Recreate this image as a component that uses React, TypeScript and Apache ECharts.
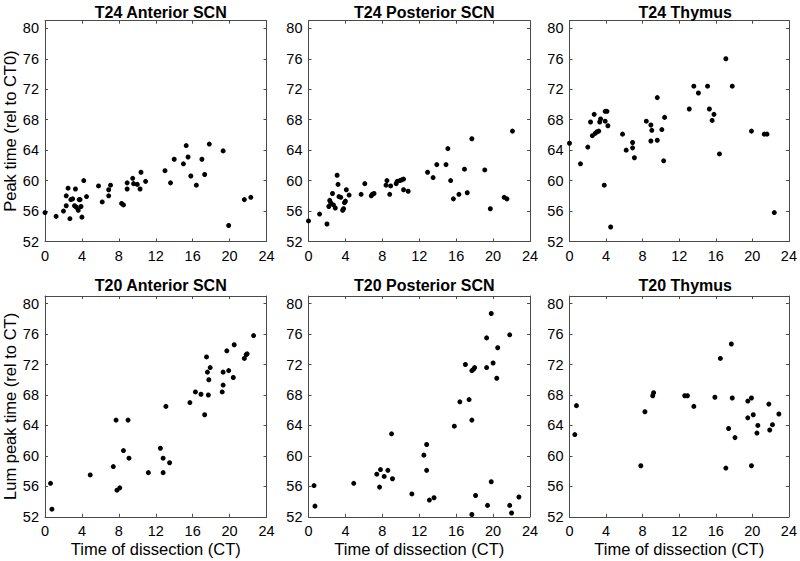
import React, { useEffect, useRef } from "react";
import * as echarts from "echarts";

const panelTitles = [
  "T24 Anterior SCN",
  "T24 Posterior SCN",
  "T24 Thymus",
  "T20 Anterior SCN",
  "T20 Posterior SCN",
  "T20 Thymus",
];

const yNameTop = "Peak time (rel to CT0)";
const yNameBottom = "Lum peak time (rel to CT)";
const xName = "Time of dissection (CT)";

const xTicks = [0, 4, 8, 12, 16, 20, 24];
const yTicks = [52, 56, 60, 64, 68, 72, 76, 80];

const t24Anterior: [number, number][] = [
  [0, 55.8], [1.2, 55.3], [2.0, 56.0], [2.3, 56.7], [2.3, 58.0], [2.5, 59.0], [2.7, 55.0],
  [2.8, 57.5], [3.0, 57.6], [3.2, 56.7], [3.3, 58.9], [3.4, 56.5], [3.6, 56.1], [3.7, 57.5],
  [3.8, 57.5], [3.9, 56.6], [4.0, 55.2], [4.2, 60.0], [4.5, 57.9], [5.8, 59.3], [6.2, 57.2],
  [6.9, 58.0], [6.9, 58.8], [7.1, 59.4], [8.3, 57.0], [8.5, 56.8], [8.9, 59.7], [8.9, 58.9],
  [9.5, 60.3], [9.6, 59.6], [10.0, 59.5], [10.3, 58.9], [10.4, 61.1], [10.9, 59.9],
  [13.0, 61.3], [13.6, 59.7], [14.0, 62.8], [15.0, 62.2], [15.3, 64.6], [15.5, 63.1],
  [15.8, 60.6], [16.4, 59.4], [17.0, 62.8], [17.3, 60.8], [17.8, 64.8], [19.3, 63.9],
  [19.9, 54.1], [21.6, 57.5], [22.3, 57.8],
];

const t24Posterior: [number, number][] = [
  [0, 54.7], [1.2, 55.6], [2.0, 54.3], [2.2, 56.6], [2.3, 57.4], [2.4, 57.1], [2.6, 58.3],
  [2.7, 56.8], [2.9, 56.4], [3.1, 60.7], [3.2, 59.5], [3.3, 57.9], [3.5, 57.8], [3.7, 56.1],
  [3.8, 56.3], [3.9, 57.1], [4.0, 57.3], [4.1, 58.8], [4.4, 58.1], [5.7, 58.2], [6.1, 59.6],
  [6.8, 58.0], [6.9, 58.2], [7.1, 58.3], [8.4, 59.4], [8.5, 60.0], [8.8, 58.2], [8.9, 59.3],
  [9.5, 59.6], [9.6, 59.9], [9.9, 60.0], [10.1, 60.1], [10.3, 60.2], [10.3, 58.8], [10.8, 58.6],
  [12.9, 61.1], [13.5, 60.4], [13.9, 62.1], [14.9, 62.1], [15.1, 64.2], [15.4, 60.0],
  [15.7, 57.6], [16.3, 58.2], [16.9, 61.5], [17.2, 58.4], [17.7, 65.5], [19.1, 61.4],
  [19.7, 56.3], [21.2, 57.8], [21.5, 57.6], [22.1, 66.5],
];

const t24Thymus: [number, number][] = [
  [0, 64.9], [1.2, 62.2], [2.0, 64.4], [2.3, 67.7], [2.5, 65.9], [2.7, 68.7], [2.8, 66.2],
  [3.0, 66.4], [3.2, 66.5], [3.3, 67.7], [3.4, 68.1], [3.8, 59.4], [3.9, 67.8], [3.9, 69.1],
  [4.1, 69.1], [4.2, 67.2], [4.5, 53.9], [5.8, 66.1], [6.2, 64.0], [6.9, 65.0], [6.9, 64.3],
  [7.1, 63.0], [8.4, 67.8], [8.9, 67.3], [9.0, 66.6], [8.9, 65.2], [9.6, 70.9], [9.6, 65.3],
  [10.1, 66.7], [10.3, 62.6], [10.4, 68.3], [13.1, 69.4], [13.6, 72.4], [14.1, 71.5],
  [15.1, 72.4], [15.3, 69.4], [15.6, 67.9], [15.8, 68.7], [16.4, 63.5], [17.1, 76.0],
  [17.8, 72.4], [19.9, 66.5], [21.3, 66.1], [21.6, 66.1], [22.4, 55.8],
];

const t20Anterior: [number, number][] = [
  [0.6, 56.4], [0.75, 53.0], [4.9, 57.5], [7.4, 58.6], [7.7, 64.7], [7.8, 55.5], [8.1, 55.8],
  [8.5, 60.7], [9.0, 64.7], [9.1, 59.7], [11.2, 57.8], [12.5, 61.0], [12.8, 59.7], [12.8, 57.8],
  [13.1, 66.5], [13.5, 59.1], [15.7, 67.0], [16.3, 68.4], [16.9, 68.1], [17.3, 65.4],
  [17.5, 73.0], [17.6, 71.0], [17.7, 68.0], [17.75, 70.0], [17.9, 71.6], [19.2, 68.4],
  [19.3, 71.0], [19.3, 69.3], [19.7, 73.8], [19.9, 71.2], [20.4, 70.3], [20.5, 74.6],
  [21.6, 72.8], [21.8, 73.3], [21.9, 73.4], [22.6, 75.8],
];

const t20Posterior: [number, number][] = [
  [0.6, 56.1], [0.7, 53.4], [4.9, 56.4], [7.4, 57.6], [7.8, 58.2], [7.7, 55.9], [8.2, 57.3],
  [8.6, 58.1], [9.1, 57.0], [9.0, 62.9], [11.2, 55.0], [12.5, 60.1], [12.8, 61.5], [12.8, 58.1],
  [13.1, 54.2], [13.6, 54.5], [15.8, 63.9], [16.4, 67.1], [17.0, 72.0], [17.4, 67.4],
  [17.7, 64.7], [17.7, 52.3], [17.7, 71.2], [17.9, 71.4], [18.0, 71.6], [18.1, 54.8],
  [19.3, 75.5], [19.3, 71.6], [19.4, 53.5], [19.8, 78.7], [19.8, 56.6], [20.0, 72.2],
  [20.4, 70.2], [20.5, 74.2], [21.8, 75.9], [21.8, 53.5], [22.0, 52.5], [22.8, 54.6],
];

const t20Thymus: [number, number][] = [
  [0.58, 62.8], [0.76, 66.6], [7.8, 58.7], [8.25, 65.8], [9.1, 67.9], [9.2, 68.3], [12.6, 67.9],
  [12.9, 67.9], [13.6, 66.5], [15.9, 67.7], [16.5, 72.8], [17.1, 58.4], [17.4, 63.6],
  [17.7, 74.7], [17.8, 67.6], [18.1, 62.4], [19.5, 65.0], [19.5, 67.2], [19.9, 67.6],
  [19.9, 58.7], [20.1, 65.4], [20.5, 63.0], [20.6, 64.0], [21.8, 66.8], [21.9, 63.4],
  [22.2, 64.1], [22.9, 65.5],
];

const panelData = [t24Anterior, t24Posterior, t24Thymus, t20Anterior, t20Posterior, t20Thymus];

const FONT = "'Liberation Sans', Arial, Helvetica, sans-serif";
const LINE = "#4a4a4a";

export default function App() {
  const ref = useRef<HTMLDivElement>(null);

  useEffect(() => {
    if (!ref.current) return;
    const chart = echarts.init(ref.current, undefined, { renderer: "svg" });

    const lefts = [45, 308.5, 569.5];
    const tops = [20.7, 296];
    const W = 221.5;
    const H = 220.8;

    const grids: any[] = [];
    const xAxes: any[] = [];
    const yAxes: any[] = [];
    const series: any[] = [];
    const titles: any[] = [];

    const tickStyle = { show: true, inside: true, length: 3, lineStyle: { color: LINE, width: 1 } };
    const lineStyle = { show: true, onZero: false, lineStyle: { color: LINE, width: 1 } };

    for (let i = 0; i < 6; i++) {
      const row = Math.floor(i / 3);
      const col = i % 3;
      grids.push({ left: lefts[col], top: tops[row], width: W, height: H, containLabel: false });
      titles.push({
        text: panelTitles[i],
        left: lefts[col] + W / 2,
        top: row === 0 ? -1 : 272,
        textAlign: "center",
        textStyle: { fontSize: 16, fontWeight: "bold", color: "#000", fontFamily: FONT },
      });
      const xBase = {
        type: "value",
        gridIndex: i,
        min: xTicks[0],
        max: xTicks[xTicks.length - 1],
        interval: 4,
        splitLine: { show: false },
        axisLine: lineStyle,
        axisTick: tickStyle,
      };
      xAxes.push({
        ...xBase,
        position: "bottom",
        axisLabel: { show: true, margin: 7, fontSize: 14.5, color: "#000", fontFamily: FONT },
        name: row === 1 ? xName : "",
        nameLocation: "middle",
        nameGap: 24,
        nameTextStyle: { fontSize: 16.5, color: "#000", fontFamily: FONT },
      });
      xAxes.push({ ...xBase, position: "top", axisLabel: { show: false } });
      const yBase = {
        type: "value",
        gridIndex: i,
        min: yTicks[0],
        max: 81,
        interval: 4,
        splitLine: { show: false },
        axisLine: lineStyle,
        axisTick: tickStyle,
      };
      yAxes.push({
        ...yBase,
        position: "left",
        axisLabel: {
          show: true,
          margin: 6,
          fontSize: 14.5,
          color: "#000",
          fontFamily: FONT,
          showMaxLabel: false,
          formatter: (v: number) => (yTicks.includes(v) ? String(v) : ""),
        },
        name: col === 0 ? (row === 0 ? yNameTop : yNameBottom) : "",
        nameLocation: "middle",
        nameGap: 23,
        nameTextStyle: { fontSize: 16.5, color: "#000", fontFamily: FONT },
      });
      yAxes.push({ ...yBase, position: "right", axisLabel: { show: false } });
      series.push({
        type: "scatter",
        xAxisIndex: 2 * i,
        yAxisIndex: 2 * i,
        data: panelData[i],
        symbol: "circle",
        symbolSize: 5,
        itemStyle: { color: "#000", opacity: 1 },
        silent: true,
      });
    }

    chart.setOption({
      animation: false,
      backgroundColor: "#fff",
      textStyle: { fontFamily: FONT },
      title: titles,
      grid: grids,
      xAxis: xAxes,
      yAxis: yAxes,
      series,
    });

    return () => chart.dispose();
  }, []);

  return (
    <div
      ref={ref}
      style={{ position: "absolute", left: 0, top: 0, width: 800, height: 561 }}
    />
  );
}
